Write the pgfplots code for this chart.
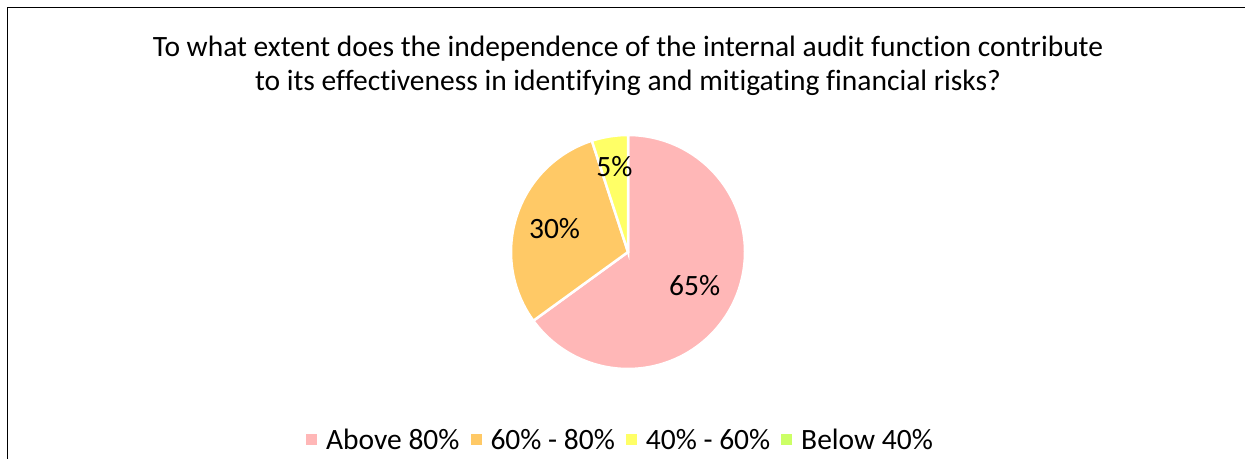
\documentclass[border=0pt]{standalone}
\usepackage{pgfplots}
\pgfplotsset{compat=1.18}
\usepackage{pgfplotstable}
\usepackage{fontspec}
\setmainfont[Ligatures={NoCommon}]{Carlito}
\definecolor{cA}{HTML}{FFB7B7}
\definecolor{cB}{HTML}{FFC966}
\definecolor{cC}{HTML}{FFFF66}
\definecolor{cD}{HTML}{CCFF66}
\pgfplotstableread{
label value
Above80 65
60to80 30
40to60 5
Below40 0
}\piedata
\newcommand\bigfont{\fontsize{29.5bp}{34bp}\selectfont}
\begin{document}
\begin{tikzpicture}[x=1bp,y=1bp]
\useasboundingbox (0,0) rectangle (1245,459);
\draw[line width=1.5bp] (7.5,0) -- (7.5,451.5) -- (1245,451.5);
\node[align=center, font=\bigfont] at (628,393) {To what extent does the independence of the internal audit function contribute\\to its effectiveness in identifying and mitigating financial risks?};
\pgfplotstablegetelem{0}{value}\of\piedata \let\vA\pgfplotsretval
\pgfplotstablegetelem{1}{value}\of\piedata \let\vB\pgfplotsretval
\pgfplotstablegetelem{2}{value}\of\piedata \let\vC\pgfplotsretval
\pgfplotstablegetelem{3}{value}\of\piedata \let\vD\pgfplotsretval
\pgfmathsetmacro\aA{90}
\pgfmathsetmacro\aB{90-3.6*\vA}
\pgfmathsetmacro\aC{\aB-3.6*\vB}
\pgfmathsetmacro\aD{\aC-3.6*\vC}
\pgfmathsetmacro\mA{(\aA+\aB)/2}
\pgfmathsetmacro\mB{(\aB+\aC)/2}
\pgfmathsetmacro\mC{(\aC+\aD)/2}
\begin{axis}[at={(628bp,207bp)}, anchor=center, width=234bp, height=234bp,
  scale only axis, xmin=-1, xmax=1, ymin=-1, ymax=1, hide axis, clip=false,
  legend image code/.code={\fill[#1, draw=none] (0bp,-5.5bp) rectangle (11bp,5.5bp);},
  legend columns=4,
  legend style={draw=none, fill=none, font=\bigfont, at={(-0.889,-0.3034)}, anchor=west,
    nodes={inner sep=0pt},
    /tikz/every odd column/.append style={column sep=9bp},
    /tikz/every even column/.append style={column sep=11bp}},
  legend cell align=left]
\addplot[fill=cA, draw=white, line width=2.5bp, domain=\aB:\aA, samples=150, variable=\t] ({cos(\t)},{sin(\t)}) -- (axis cs:0,0) -- cycle;
\addlegendentry{Above 80\%}
\addplot[fill=cB, draw=white, line width=2.5bp, domain=\aC:\aB, samples=80, variable=\t] ({cos(\t)},{sin(\t)}) -- (axis cs:0,0) -- cycle;
\addlegendentry{60\% - 80\%}
\addplot[fill=cC, draw=white, line width=2.5bp, domain=\aD:\aC, samples=20, variable=\t] ({cos(\t)},{sin(\t)}) -- (axis cs:0,0) -- cycle;
\addlegendentry{40\% - 60\%}
\addlegendimage{fill=cD}
\addlegendentry{Below 40\%}
\node[font=\bigfont] at (axis cs:{0.64*cos(\mA)},{0.64*sin(\mA)}) {\vA\%};
\node[font=\bigfont] at (axis cs:{0.66*cos(\mB)},{0.66*sin(\mB)}) {\vB\%};
\node[font=\bigfont] at (axis cs:{0.74*cos(\mC)},{0.74*sin(\mC)}) {\vC\%};
\end{axis}
\end{tikzpicture}
\end{document}
